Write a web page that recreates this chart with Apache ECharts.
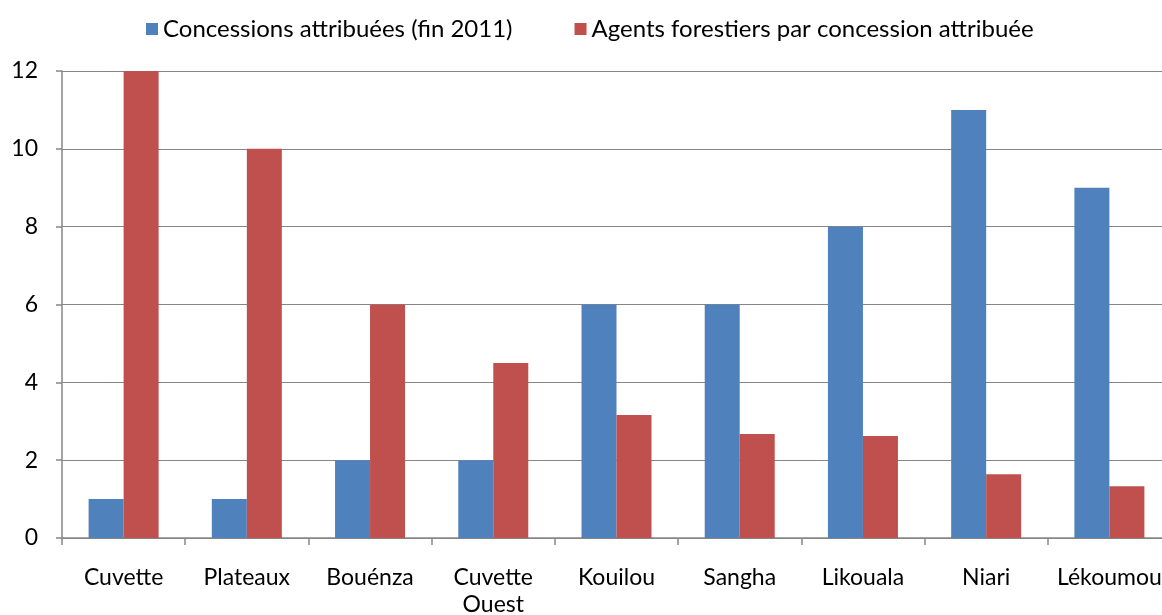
<!DOCTYPE html>
<html>
<head>
<meta charset="utf-8">
<script src="https://cdn.jsdelivr.net/npm/echarts@6/dist/echarts.min.js"></script>
<style>
  html, body { margin: 0; padding: 0; background: #fff; }
  #chart { width: 1162px; height: 615px; }
</style>
</head>
<body>
<div id="chart"></div>
<script>
// departements
var categories = ['Cuvette', 'Plateaux', 'Bouénza', 'Cuvette\nOuest', 'Kouilou', 'Sangha', 'Likouala', 'Niari', 'Lékoumou'];
var concessions = [1, 1, 2, 2, 6, 6, 8, 11, 9];
var agentsParConcession = [12, 10, 6, 4.5, 3.16, 2.67, 2.62, 1.64, 1.33];
var yTicks = [0, 2, 4, 6, 8, 10, 12];

var font = 'Lato, "Open Sans", sans-serif';
var grey = '#868686';

var chart = echarts.init(document.getElementById('chart'));
chart.setOption({
  animation: false,
  textStyle: { fontFamily: font },
  legend: {
    top: 12,
    left: 141,
    itemWidth: 12,
    itemHeight: 12,
    itemGap: 62,
    icon: 'rect',
    textStyle: { fontSize: 24, color: '#000', fontFamily: font },
    data: ['Concessions attribuées (fin 2011)', 'Agents forestiers par concession attribuée']
  },
  // plot runs past the right edge, the last label is cut like in the original
  grid: { left: 62, width: 1109, top: 71, bottom: 77, outerBoundsMode: 'none' },
  xAxis: {
    type: 'category',
    data: categories,
    axisLine: { lineStyle: { color: grey, width: 1.5 } },
    axisTick: { show: true, length: 7, lineStyle: { color: grey, width: 1.5 } },
    axisLabel: { color: '#000', fontSize: 23, margin: 26, lineHeight: 27, interval: 0 },
    splitLine: { show: false }
  },
  yAxis: {
    type: 'value',
    min: yTicks[0],
    max: yTicks[yTicks.length - 1],
    interval: 2,
    axisLine: { show: true, lineStyle: { color: grey, width: 1.5 } },
    axisTick: { show: true, length: 6, lineStyle: { color: grey, width: 1.5 } },
    axisLabel: { color: '#000', fontSize: 23, margin: 24 },
    splitLine: { show: true, lineStyle: { color: grey, width: 1.2 } }
  },
  series: [
    {
      name: 'Concessions attribuées (fin 2011)',
      type: 'bar',
      data: concessions,
      barWidth: 35,
      barGap: '0%',
      itemStyle: { color: '#4F81BD' }
    },
    {
      name: 'Agents forestiers par concession attribuée',
      type: 'bar',
      data: agentsParConcession,
      barWidth: 35,
      barGap: '0%',
      itemStyle: { color: '#C0504D' }
    }
  ]
});
</script>
</body>
</html>
